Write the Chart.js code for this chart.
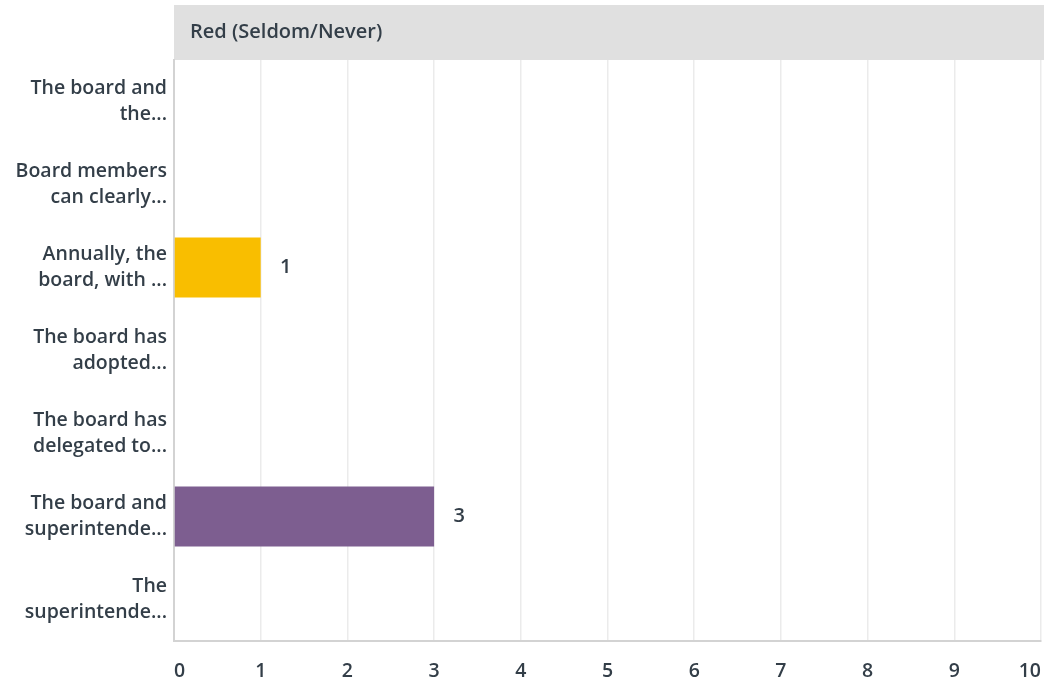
<!DOCTYPE html>
<html>
<head>
<meta charset="utf-8">
<script src="https://cdn.jsdelivr.net/npm/chart.js@4"></script>
<style>
  html, body { margin: 0; padding: 0; background: #ffffff; }
  #wrap { width: 1044px; height: 685px; position: relative; }
</style>
</head>
<body>
<div id="wrap"><canvas id="chart"></canvas></div>
<script>
// Survey rows (truncated question text, two lines each)
const questions = [
  ['The board and', 'the...'],
  ['Board members', 'can clearly...'],
  ['Annually, the', 'board, with ...'],
  ['The board has', 'adopted...'],
  ['The board has', 'delegated to...'],
  ['The board and', 'superintende...'],
  ['The', 'superintende...'],
];
const responses = [0, 0, 1, 0, 0, 3, 0];
const rowColors = ['#00BF6F', '#507CB6', '#F9BE00', '#6BC8CD', '#FF8B4F', '#7D5E90', '#D25F90'];
const columnTitle = 'Red (Seldom/Never)';
const xMax = 10;

const TEXT = '#333E48';
const FONT = '"Open Sans", Roboto, Arial, sans-serif';

// gray header band above the plot
const headerBand = {
  id: 'headerBand',
  beforeDraw(chart) {
    const { ctx, chartArea } = chart;
    ctx.save();
    ctx.fillStyle = '#E0E0E0';
    ctx.fillRect(chartArea.left, 5, chart.width - chartArea.left, chartArea.top - 5);
    ctx.fillStyle = TEXT;
    ctx.font = '600 20px ' + FONT;
    ctx.textBaseline = 'middle';
    ctx.fillText(columnTitle, chartArea.left + 16, 32);
    ctx.restore();
  }
};

// count next to each non-zero bar
const barValues = {
  id: 'barValues',
  afterDatasetsDraw(chart) {
    const { ctx } = chart;
    const meta = chart.getDatasetMeta(0);
    ctx.save();
    ctx.fillStyle = TEXT;
    ctx.font = '600 20px ' + FONT;
    ctx.textBaseline = 'middle';
    ctx.textAlign = 'center';
    meta.data.forEach((bar, i) => {
      const v = responses[i];
      if (!v) return;
      ctx.fillText(String(v), bar.x + 25, bar.y);
    });
    ctx.restore();
  }
};

new Chart(document.getElementById('chart'), {
  type: 'bar',
  data: {
    labels: questions,
    datasets: [{
      data: responses,
      backgroundColor: rowColors,
      borderWidth: 0,
      categoryPercentage: 1,
      barPercentage: 0.72,
    }],
  },
  options: {
    indexAxis: 'y',
    responsive: true,
    maintainAspectRatio: false,
    animation: false,
    layout: { padding: { top: 60, right: 3, left: 0, bottom: 0 } },
    plugins: {
      legend: { display: false },
      tooltip: { enabled: false },
    },
    scales: {
      x: {
        min: 0,
        max: xMax,
        afterFit: s => { s.height = 44; s.paddingRight = 0; s.paddingLeft = 0; },
        grid: { color: '#EBEBEB', lineWidth: 1.5, drawTicks: false },
        border: { color: '#D3D3D3', width: 2 },
        ticks: {
          stepSize: 1,
          align: 'inner',
          padding: 19,
          color: TEXT,
          font: { family: FONT, size: 19.5, weight: '600' },
        },
      },
      y: {
        afterFit: s => { s.width = 174; },
        grid: { display: false, drawTicks: false },
        border: { color: '#D3D3D3', width: 2 },
        ticks: {
          padding: 7,
          color: TEXT,
          font: { family: FONT, size: 19.5, weight: '600', lineHeight: 1.29 },
        },
      },
    },
  },
  plugins: [headerBand, barValues],
});
</script>
</body>
</html>
